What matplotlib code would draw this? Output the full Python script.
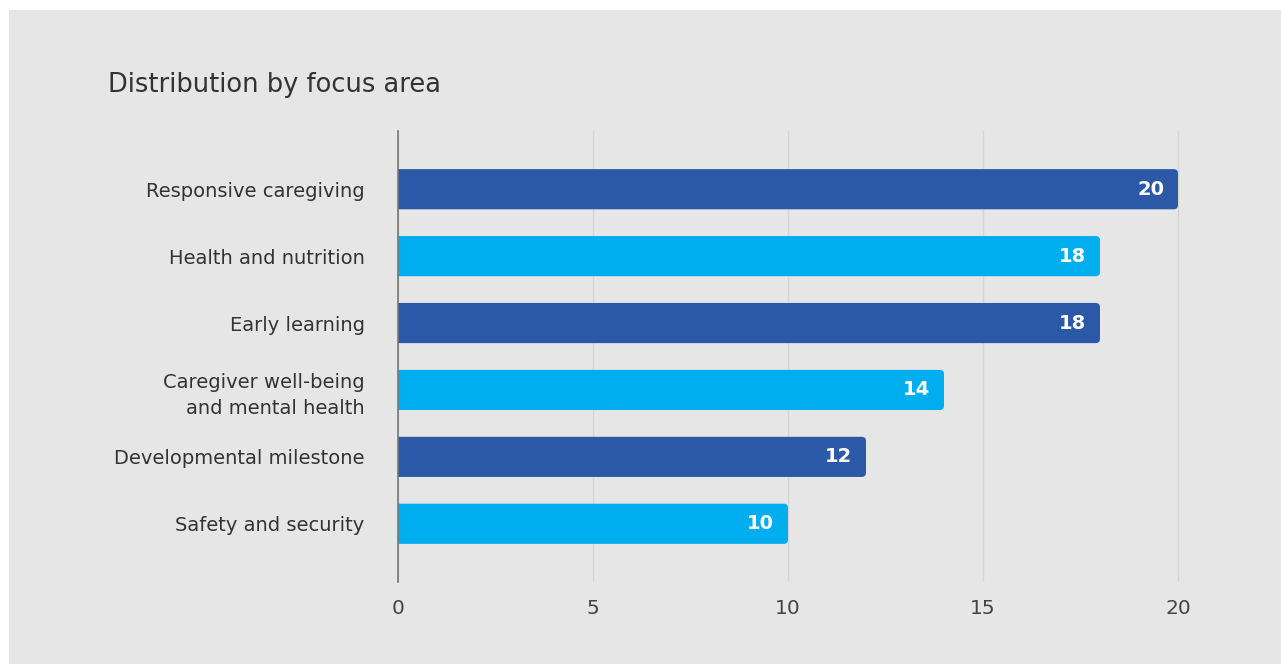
import matplotlib.pyplot as plt
from matplotlib.patches import Rectangle, FancyBboxPatch

# Données du graphique
categorias = ['Responsive caregiving', 'Health and nutrition', 'Early learning',
              'Caregiver well-being\nand mental health', 'Developmental milestone',
              'Safety and security']
valores = [20, 18, 18, 14, 12, 10]
cores = ['#2b59a8', '#00aeef', '#2b59a8', '#00aeef', '#2b59a8', '#00aeef']
ticks_x = [0, 5, 10, 15, 20]

plt.rcParams['font.family'] = ['DejaVu Sans']

fundo = '#e6e6e6'
fig = plt.figure(figsize=(12.81, 6.64), dpi=100, facecolor='white')
# fundo cinza com pequena margem branca em cima e à esquerda
fig.patches.append(Rectangle((9 / 1281, 0), 1, 1 - 10 / 664, transform=fig.transFigure,
                             facecolor=fundo, edgecolor='none', zorder=-10))

ax = fig.add_axes([398 / 1281, 1 - 582 / 664, (1256 - 398) / 1281, (582 - 131) / 664])
ax.set_facecolor(fundo)

y = list(range(len(categorias)))
barras = ax.barh(y, valores, height=0.6, color=cores, zorder=3)

# cantos arredondados na ponta das barras
for b in barras:
    b.set_visible(False)
    x0, y0, w, h = b.get_x(), b.get_y(), b.get_width(), b.get_height()
    ax.add_patch(FancyBboxPatch((x0 - 0.3, y0), w + 0.3, h,
                                boxstyle='round,pad=0,rounding_size=0.11',
                                mutation_aspect=0.58, facecolor=b.get_facecolor(),
                                edgecolor='none', zorder=3))

# Rótulos de valor dentro das barras
for yi, v in zip(y, valores):
    ax.annotate(str(v), (v, yi), xytext=(-10, 0), textcoords='offset points',
                ha='right', va='center', color='white', fontsize=14, fontweight='bold', zorder=4)

ax.set_xlim(0, 22)
ax.set_ylim(len(categorias) - 0.13, -0.87)
ax.set_xticks(ticks_x)
ax.set_yticks(y)
ax.set_yticklabels(categorias, fontsize=14, color='#333333', ha='right', linespacing=1.5)
ax.tick_params(axis='y', length=0, pad=24)
ax.tick_params(axis='x', length=0, pad=12, labelsize=14.5, labelcolor='#444444')

ax.grid(axis='x', color='#d6d6d6', linewidth=1, zorder=0)
for lado in ['top', 'right', 'bottom']:
    ax.spines[lado].set_visible(False)
ax.spines['left'].set_color('#777777')
ax.spines['left'].set_linewidth(1.2)
ax.spines['left'].set_zorder(5)

fig.text(108 / 1281, 1 - 85 / 664, 'Distribution by focus area', fontsize=18.5,
         color='#333333', ha='left', va='center')

fig.savefig('out.png', dpi=100, facecolor=fig.get_facecolor())
